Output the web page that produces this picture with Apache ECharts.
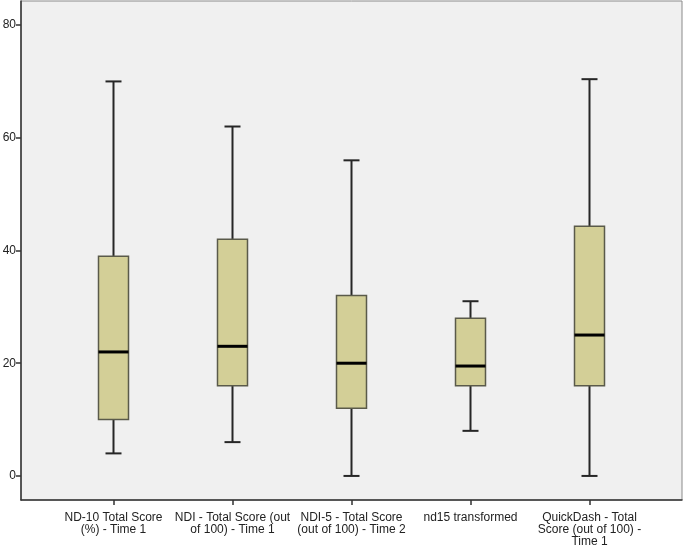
<!DOCTYPE html>
<html>
<head>
<meta charset="utf-8">
<script src="https://cdn.jsdelivr.net/npm/echarts@6/dist/echarts.min.js"></script>
<style>html,body{margin:0;padding:0;background:#fff;}#c{width:685px;height:545px;}</style>
</head>
<body>
<div id="c"></div>
<script>
var categories = [
  'ND-10 Total Score\n(%) - Time 1',
  'NDI - Total Score (out\nof 100) - Time 1',
  'NDI-5 - Total Score\n(out of 100) - Time 2',
  'nd15 transformed',
  'QuickDash - Total\nScore (out of 100) -\nTime 1'
];
var mins    = [4, 6, 0, 8, 0];
var q1s     = [10, 16, 12, 16, 16];
var medians = [22, 23, 20, 19.5, 25];
var q3s     = [39, 42, 32, 28, 44.3];
var maxs    = [70, 62, 56, 31, 70.4];
var yTicks  = [0, 20, 40, 60, 80];
var xPositions = [1, 2, 3, 4, 5];

var data = xPositions.map(function (x, i) {
  return [x, mins[i], q1s[i], medians[i], q3s[i], maxs[i]];
});

var chart = echarts.init(document.getElementById('c'), null, {renderer: 'canvas'});
chart.setOption({
  backgroundColor: '#ffffff',
  animation: false,
  grid: {
    left: 21, top: 1, width: 661, height: 499,
    containLabel: false, outerBoundsMode: 'none',
    show: true, backgroundColor: '#f0f0f0', borderColor: '#8a8a8a', borderWidth: 1
  },
  xAxis: {
    type: 'value',
    min: 0.2227, max: 5.7773,
    splitLine: {show: false},
    axisLine: {show: true, onZero: false, lineStyle: {color: '#333', width: 1.5}},
    axisTick: {show: true, inside: false, customValues: xPositions, length: 5, lineStyle: {color: '#333', width: 1.5}},
    axisLabel: {
      show: true, customValues: xPositions, margin: 12,
      color: '#222', fontSize: 12, fontFamily: '"Liberation Sans", Arial, sans-serif', lineHeight: 12,
      formatter: function (v) { return categories[Math.round(v) - 1] || ''; }
    }
  },
  yAxis: {
    type: 'value',
    min: -4.27, max: 84.27,
    splitLine: {show: false},
    axisLine: {show: true, onZero: false, lineStyle: {color: '#333', width: 1.5}},
    axisTick: {show: true, inside: false, customValues: yTicks, length: 5, lineStyle: {color: '#333', width: 1.5}},
    axisLabel: {
      show: true, customValues: yTicks, margin: 5,
      color: '#222', fontSize: 12, fontFamily: '"Liberation Sans", Arial, sans-serif'
    }
  },
  series: [{
    type: 'custom',
    data: data,
    encode: {x: 0, y: [1, 2, 3, 4, 5]},
    clip: false,
    renderItem: function (params, api) {
      var x = api.value(0);
      var pMin = api.coord([x, api.value(1)]);
      var pQ1 = api.coord([x, api.value(2)]);
      var pMed = api.coord([x, api.value(3)]);
      var pQ3 = api.coord([x, api.value(4)]);
      var pMax = api.coord([x, api.value(5)]);
      var cx = pMin[0];
      var boxHalf = 15, capHalf = 8;
      var wStyle = {stroke: '#262626', lineWidth: 2};
      return {
        type: 'group',
        children: [
          {type: 'line', shape: {x1: cx, y1: pMax[1], x2: cx, y2: pQ3[1]}, style: wStyle},
          {type: 'line', shape: {x1: cx, y1: pQ1[1], x2: cx, y2: pMin[1]}, style: wStyle},
          {type: 'line', shape: {x1: cx - capHalf, y1: pMax[1], x2: cx + capHalf, y2: pMax[1]}, style: wStyle},
          {type: 'line', shape: {x1: cx - capHalf, y1: pMin[1], x2: cx + capHalf, y2: pMin[1]}, style: wStyle},
          {type: 'rect', shape: {x: cx - boxHalf, y: pQ3[1], width: boxHalf * 2, height: pQ1[1] - pQ3[1]},
           style: {fill: '#d3cf97', stroke: '#5a5a4a', lineWidth: 1.5}},
          {type: 'line', shape: {x1: cx - boxHalf, y1: pMed[1], x2: cx + boxHalf, y2: pMed[1]},
           style: {stroke: '#000', lineWidth: 3}}
        ]
      };
    }
  }]
});
</script>
</body>
</html>
